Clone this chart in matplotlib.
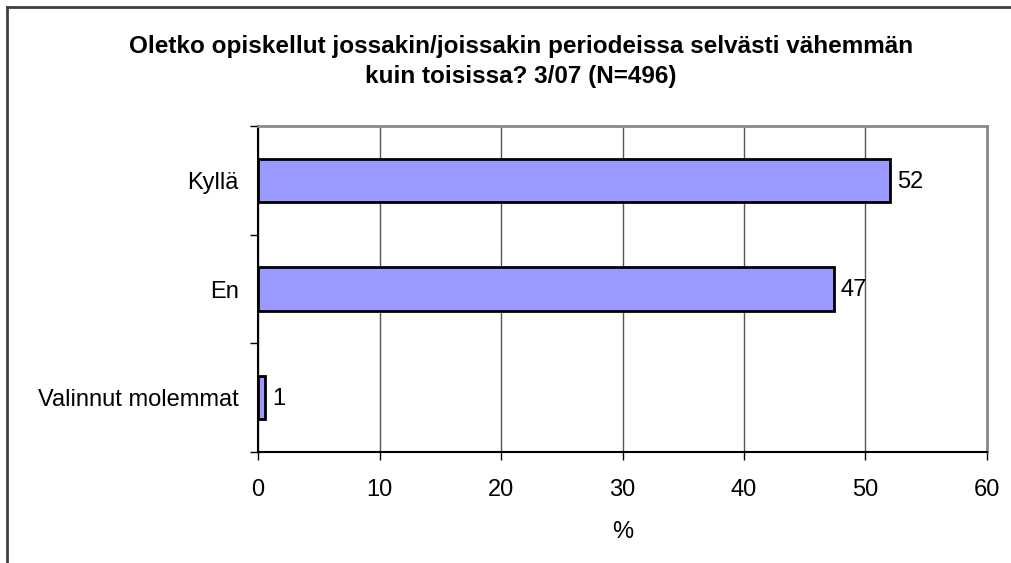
import matplotlib
matplotlib.use("Agg")
import matplotlib.pyplot as plt
from matplotlib.lines import Line2D

categories = ["Kyllä", "En", "Valinnut molemmat"]
values = [52.0, 47.4, 0.6]
labels = ["52", "47", "1"]
xticks = [0, 10, 20, 30, 40, 50, 60]

plt.rcParams['font.family'] = ['Liberation Sans', 'DejaVu Sans']

W, H = 1012, 563
FS = 17
fig = plt.figure(figsize=(W / 100, H / 100), dpi=100)
ax = fig.add_axes([258 / W, 1 - 452 / H, (987 - 258) / W, (452 - 126) / H])

n = len(categories)
ypos = [n - 1 - i for i in range(n)]
ax.barh(ypos, values, height=0.4, color="#9999FF", edgecolor="black", linewidth=2, zorder=3)
for y, v, lab in zip(ypos, values, labels):
    ax.annotate(lab, (v, y), xytext=(5, -1), textcoords="offset points",
                ha="left", va="center", fontsize=FS, zorder=4)

ax.set_xlim(0, 60)
ax.set_ylim(-0.5, n - 0.5)
ax.set_xticks(xticks)
ax.set_xticklabels([str(t) for t in xticks], fontsize=FS)
ax.set_yticks(ypos)
ax.set_yticklabels(categories, fontsize=FS)
ax.tick_params(axis="y", which="major", length=0, pad=14)
ax.set_yticks([i - 0.5 for i in range(n + 1)], minor=True)
ax.tick_params(axis="y", which="minor", length=6, width=1, direction="out", color="black")
ax.tick_params(axis="x", length=6, width=1, direction="out", pad=13.5, color="black")
ax.grid(axis="x", color="#555555", linewidth=1, zorder=0)
ax.set_xlabel("%", fontsize=FS, labelpad=14)

for s in ["left", "bottom"]:
    ax.spines[s].set_color("black")
    ax.spines[s].set_linewidth(1.5)
for s in ["top", "right"]:
    ax.spines[s].set_color("#888888")
    ax.spines[s].set_linewidth(2)

fig.text(521 / W, 1 - 46 / H, "Oletko opiskellut jossakin/joissakin periodeissa selvästi vähemmän",
         ha="center", va="center", fontsize=17.5, fontweight="bold")
fig.text(521 / W, 1 - 76 / H, "kuin toisissa? 3/07 (N=496)",
         ha="center", va="center", fontsize=17.5, fontweight="bold")

# figure border (right and bottom lie outside the image)
fig.add_artist(Line2D([7.5 / W, 7.5 / W], [0, 1 - 6.5 / H], transform=fig.transFigure,
                      color="#404040", linewidth=2))
fig.add_artist(Line2D([7.5 / W, 1], [1 - 6.5 / H, 1 - 6.5 / H], transform=fig.transFigure,
                      color="#404040", linewidth=2))

fig.savefig("out.png", dpi=100)
